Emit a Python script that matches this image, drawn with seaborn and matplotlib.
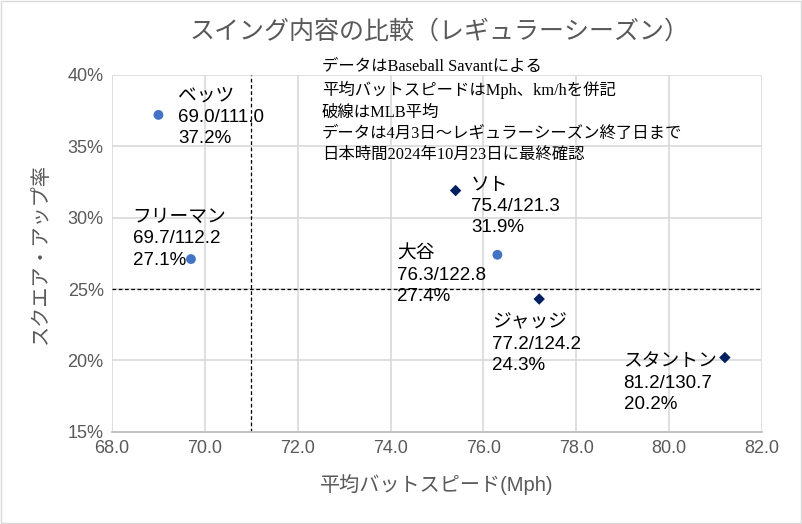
import pandas as pd
import matplotlib
matplotlib.use('Agg')
import matplotlib.pyplot as plt
import seaborn as sns

# data
players = ['ベッツ', 'フリーマン', '大谷', 'ソト', 'ジャッジ', 'スタントン']
team = ['LAD', 'LAD', 'LAD', 'NYY', 'NYY', 'NYY']
speed_mph = [69.0, 69.7, 76.3, 75.4, 77.2, 81.2]
speed_kmh = [111.0, 112.2, 122.8, 121.3, 124.2, 130.7]
square_up = [37.2, 27.1, 27.4, 31.9, 24.3, 20.2]
mlb_avg_speed = 71.0
mlb_avg_square = 25.0

notes = ['データはBaseball Savantによる',
         '平均バットスピードはMph、km/hを併記',
         '破線はMLB平均',
         'データは4月3日～レギュラーシーズン終了日まで',
         '日本時間2024年10月23日に最終確認']


def main():
    data = pd.DataFrame({'player': players, 'team': team, 'mph': speed_mph,
                         'kmh': speed_kmh, 'sq': square_up})

    sns.set_style('white')
    plt.rcParams['font.family'] = ['Noto Sans CJK JP', 'DejaVu Sans']
    fig = plt.figure(figsize=(8.03, 5.24), dpi=100)
    ax = fig.add_axes([0.1395, 0.176, 0.8095, 0.681])

    sns.scatterplot(data=data, x='mph', y='sq', hue='team', style='team', size='team',
                    palette={'LAD': '#4472C4', 'NYY': '#002060'},
                    markers={'LAD': 'o', 'NYY': 'D'},
                    sizes={'LAD': 50, 'NYY': 34}, edgecolor='none', legend=False,
                    ax=ax, zorder=3)

    ax.set_xlim(68, 82)
    ax.set_ylim(15, 40)
    ax.set_xticks(range(68, 83, 2))
    ax.set_xticklabels(['%.1f' % v for v in range(68, 83, 2)])
    ax.set_yticks(range(15, 41, 5))
    ax.set_yticklabels(['%d%%' % v for v in range(15, 41, 5)])
    ax.grid(True, color='#D9D9D9', linewidth=1.2)
    for sp in ax.spines.values():
        sp.set_visible(False)
    ax.spines['bottom'].set_visible(True)
    ax.spines['bottom'].set_color('#BFBFBF')
    ax.spines['bottom'].set_linewidth(1.3)
    ax.tick_params(length=0, labelsize=13, colors='#595959', pad=6)
    for t in ax.get_xticklabels() + ax.get_yticklabels():
        t.set_family(['Liberation Sans'])

    ax.axvline(mlb_avg_speed, color='black', linestyle=(0, (3, 2)), linewidth=0.9, zorder=2)
    ax.axhline(mlb_avg_square, color='black', linestyle=(0, (3, 2)), linewidth=0.9, zorder=2)

    # label offsets in points (dx, dy, ha, va)
    offs = {'ベッツ': (14, -2, 'left', 'center'),
            'フリーマン': (-42, -7, 'left', 'bottom'),
            '大谷': (-72, 7, 'left', 'top'),
            'ソト': (11, 10, 'left', 'top'),
            'ジャッジ': (-34, -11, 'left', 'top'),
            'スタントン': (-73, 3, 'left', 'top')}
    for _, r in data.iterrows():
        dx, dy, ha, va = offs[r.player]
        txt = '%s\n%.1f/%.1f\n%.1f%%' % (r.player, r.mph, r.kmh, r.sq)
        ax.annotate(txt, (r.mph, r.sq), xytext=(dx, dy), textcoords='offset points',
                    ha=ha, va=va, fontsize=13.5, color='black', linespacing=1.33,
                    family=['Liberation Sans', 'Noto Sans CJK JP'])

    fig.text(0.401, 0.888, '\n'.join(notes), ha='left', va='top', fontsize=11.8,
             color='black', linespacing=1.45,
             family=['Liberation Serif', 'Noto Sans CJK JP'])

    ax.set_xlabel('平均バットスピード(Mph)', fontsize=14.5, color='#595959', labelpad=12)
    ax.set_ylabel('スクエア・アップ率', fontsize=14.5, color='#595959', labelpad=12)
    ax.xaxis.label.set_family(['Liberation Sans', 'Noto Sans CJK JP'])
    fig.text(0.547, 0.939, 'スイング内容の比較（レギュラーシーズン）', ha='center', va='center',
             fontsize=18, color='#595959')

    fig.patches.append(matplotlib.patches.Rectangle((0.001, 0.001), 0.997, 0.997,
                                                    transform=fig.transFigure, fill=False,
                                                    edgecolor='#D9D9D9', linewidth=1))
    fig.savefig('out.png', dpi=100)


if __name__ == '__main__':
    main()
